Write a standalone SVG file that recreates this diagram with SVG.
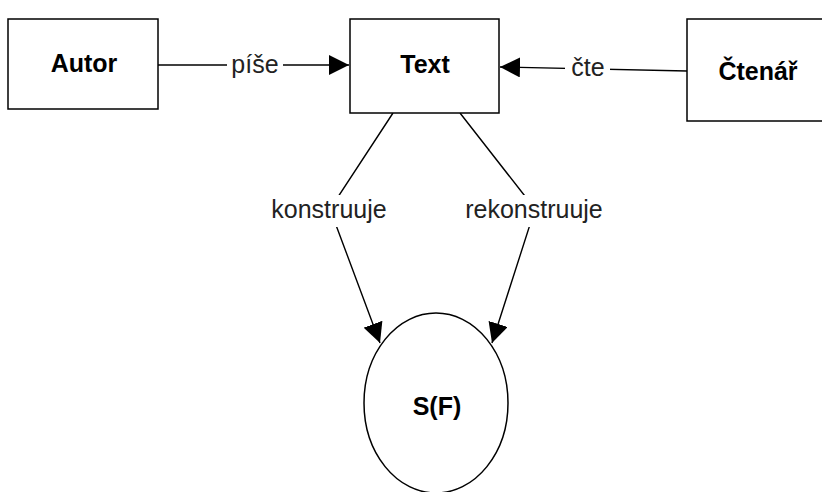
<svg xmlns="http://www.w3.org/2000/svg" width="822" height="492" viewBox="0 0 822 492">
<style>
.box{fill:#fff;stroke:#000;stroke-width:1.5}
.lbl{font-family:"Liberation Sans",Arial,sans-serif;font-size:25px;font-weight:bold;text-anchor:middle;fill:#000}
.edge{font-family:"Liberation Sans",Arial,sans-serif;font-size:25px;text-anchor:middle;fill:#222}
.ln{stroke:#000;stroke-width:1.4;fill:none}
.bg{fill:#fff}
</style>
<defs>
<marker id="arr" markerUnits="userSpaceOnUse" markerWidth="22" markerHeight="20" refX="20" refY="10" orient="auto">
<path d="M0,0 L20,10 L0,20 z" fill="#000"/>
</marker>
</defs>
<rect width="822" height="492" fill="#fff"/>
<g id="connectors">
<g id="e-pise">
<line class="ln" x1="158" y1="65" x2="349" y2="65" marker-end="url(#arr)"/>
<rect class="bg" x="227" y="52" width="56" height="26"/>
<text class="edge" x="255" y="73">píše</text>
</g>
<g id="e-cte">
<line class="ln" x1="687" y1="71" x2="500" y2="67" marker-end="url(#arr)"/>
<rect class="bg" x="565" y="55" width="45" height="26"/>
<text class="edge" x="588" y="76">čte</text>
</g>
<g id="e-konstruuje">
<polyline class="ln" points="393,113 330,209 380,343" marker-end="url(#arr)"/>
<rect class="bg" x="266" y="195" width="128" height="32"/>
<text class="edge" x="329" y="218">konstruuje</text>
</g>
<g id="e-rekonstruuje">
<polyline class="ln" points="460,113 535,209 492,343" marker-end="url(#arr)"/>
<rect class="bg" x="460" y="195" width="150" height="32"/>
<text class="edge" x="534" y="218">rekonstruuje</text>
</g>
</g>
<g id="autor">
<rect class="box" x="8" y="19" width="150" height="90"/>
<text class="lbl" x="84" y="72">Autor</text>
</g>
<g id="text">
<rect class="box" x="350" y="19" width="149" height="94"/>
<text class="lbl" x="425" y="73">Text</text>
</g>
<g id="ctenar">
<rect class="box" x="687" y="19" width="140" height="102"/>
<text class="lbl" x="758" y="80">Čtenář</text>
</g>
<g id="sf">
<ellipse class="box" cx="436" cy="403" rx="72" ry="90"/>
<text class="lbl" x="437" y="415">S(F)</text>
</g>
</svg>
